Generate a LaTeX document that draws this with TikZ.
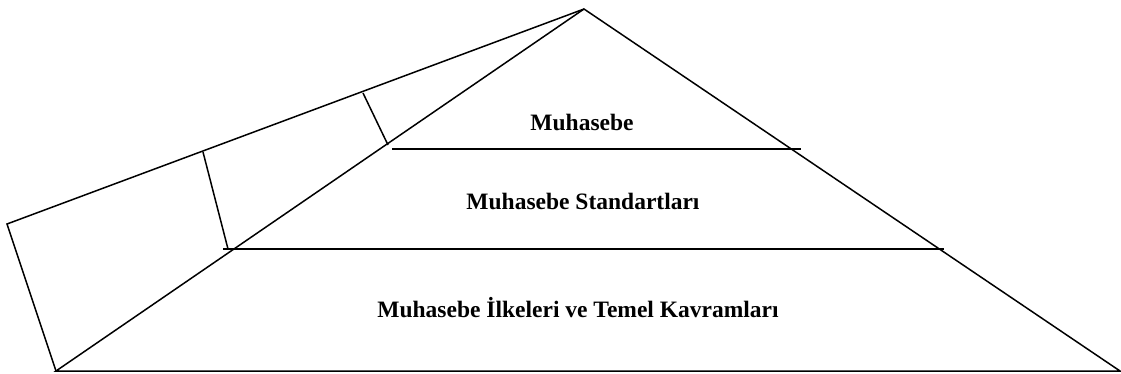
\documentclass[tikz,border=0pt]{standalone}
\usepackage{fontspec}
\setmainfont{Liberation Serif}
\begin{document}
\begin{tikzpicture}[x=1pt,y=-1pt,line width=1.5pt,
  lbl/.style={font=\bfseries\fontsize{23.5}{28}\selectfont,inner sep=0pt,anchor=base}]
\useasboundingbox (0,0) rectangle (1121,374);
\coordinate (apex) at (584,9);
\coordinate (bl) at (56,371);
\coordinate (br) at (1120,371);
\coordinate (ql) at (7,224);
\coordinate (h1a) at (392,149);
\coordinate (h1b) at (801,149);
\coordinate (h2a) at (223,249);
\coordinate (h2b) at (944,249);
\coordinate (t1a) at (363,93);
\coordinate (t1b) at (388,145);
\coordinate (t2a) at (203,152);
\coordinate (t2b) at (228,249);
\draw[line join=miter] (bl) -- (apex) -- (br) -- cycle;
\draw (bl) -- (ql) -- (apex);
\draw (h1a) -- (h1b);
\draw (h2a) -- (h2b);
\draw (t1a) -- (t1b);
\draw (t2a) -- (t2b);
\node[lbl] (l1) at (582,131) {Muhasebe};
\node[lbl] (l2) at (583,209) {Muhasebe Standartları};
\node[lbl] (l3) at (578,317) {Muhasebe İlkeleri ve Temel Kavramları};
\end{tikzpicture}
\end{document}
